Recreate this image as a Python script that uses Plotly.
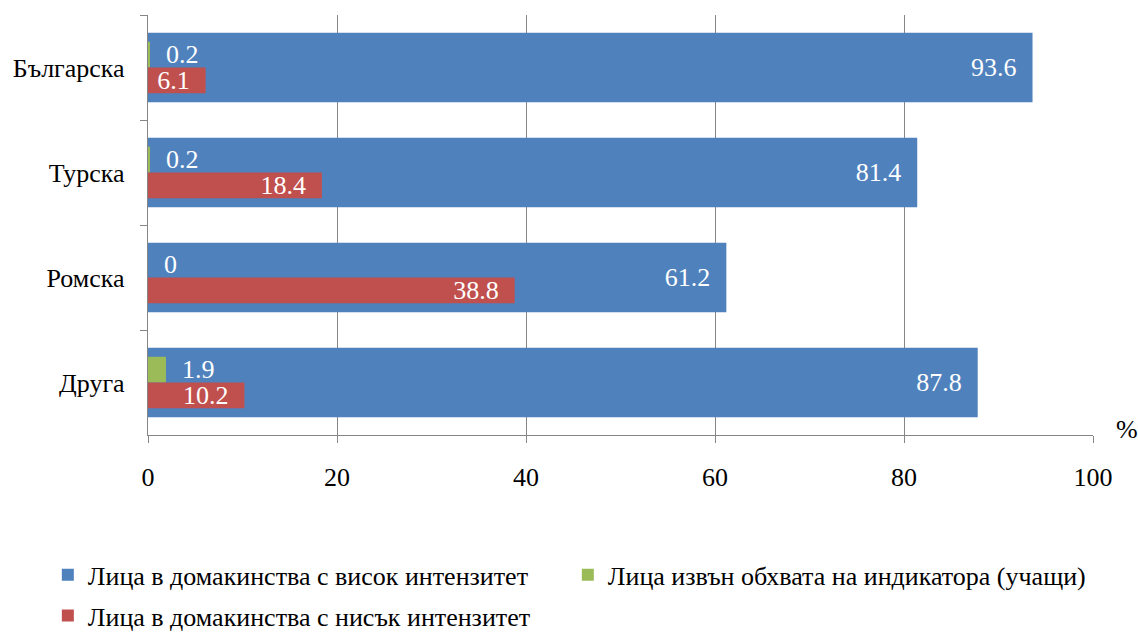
import plotly.graph_objects as go

categories = ["Българска", "Турска", "Ромска", "Друга"]
high_intensity = [93.6, 81.4, 61.2, 87.8]
outside_scope = [0.2, 0.2, 0.0, 1.9]
low_intensity = [6.1, 18.4, 38.8, 10.2]

names = [
    "Лица в домакинства с висок интензитет",
    "Лица извън обхвата на индикатора (учащи)",
    "Лица в домакинства с нисък интензитет",
]
colors = ["#4F81BD", "#9BBB59", "#C0504D"]
x_ticks = [0, 20, 40, 60, 80, 100]

FONT = "Liberation Serif"
FS = 26
NB = "\u00a0"
AX = "#868686"

fig = go.Figure()
fig.add_trace(go.Bar(
    y=categories, x=high_intensity, orientation="h", name=names[0],
    marker=dict(color=colors[0], line=dict(width=0)),
    width=0.66, offset=-0.33, legend="legend",
    texttemplate="%{x}" + NB * 2, textposition="inside", insidetextanchor="end",
    textfont=dict(color="white", family=FONT, size=FS), constraintext="none",
))
fig.add_trace(go.Bar(
    y=categories, x=outside_scope, orientation="h", name=names[1],
    marker=dict(color=colors[1], line=dict(width=0)),
    width=0.245, offset=-0.245, legend="legend",
    texttemplate=NB * 2 + "%{x}", textposition="outside",
    textfont=dict(color="white", family=FONT, size=FS), constraintext="none",
    cliponaxis=False,
))
fig.add_trace(go.Bar(
    y=categories, x=low_intensity, orientation="h", name=names[2],
    marker=dict(color=colors[2], line=dict(width=0)),
    width=0.245, offset=0.0, legend="legend2",
    texttemplate="%{x}" + NB * 2, textposition="inside", insidetextanchor="end",
    textfont=dict(color="white", family=FONT, size=FS), constraintext="none",
))

legend_common = dict(
    orientation="h", xanchor="left", yanchor="middle",
    entrywidth=475, entrywidthmode="pixels",
    font=dict(family=FONT, size=FS, color="black"), itemwidth=30,
    bgcolor="rgba(0,0,0,0)", borderwidth=0,
)

fig.update_layout(
    width=1138, height=633,
    barmode="overlay",
    plot_bgcolor="white", paper_bgcolor="white",
    margin=dict(l=148, r=45, t=15, b=198, autoexpand=False),
    font=dict(family=FONT, size=FS, color="black"),
    showlegend=True,
    legend=dict(x=-0.106, y=-0.333, **legend_common),
    legend2=dict(x=-0.106, y=-0.430, **legend_common),
    annotations=[dict(
        text="%", xref="paper", yref="paper", x=1.036, y=0.012, xanchor="center",
        yanchor="middle", showarrow=False, font=dict(family=FONT, size=FS, color="black"),
    )],
)
fig.update_xaxes(
    range=[0, 100], tickvals=x_ticks, showgrid=True, gridcolor=AX, gridwidth=1.3,
    showline=True, linecolor=AX, linewidth=1.3,
    ticks="outside", ticklen=7, tickcolor=AX, tickwidth=1.3,
    ticklabelstandoff=12, zeroline=False, automargin=False,
    tickfont=dict(family=FONT, size=FS, color="black"),
)
fig.update_yaxes(
    categoryorder="array", categoryarray=categories, autorange="reversed",
    showline=True, linecolor=AX, linewidth=1.3,
    ticks="outside", ticklen=7, tickcolor=AX, tickwidth=1.3,
    tickson="boundaries", ticklabelstandoff=17, showgrid=False, automargin=False,
    tickfont=dict(family=FONT, size=FS, color="black"),
)

fig.write_html(
    "out.html",
    config={"displayModeBar": False},
    post_script="document.body.style.margin='0';document.body.style.padding='0';",
)
